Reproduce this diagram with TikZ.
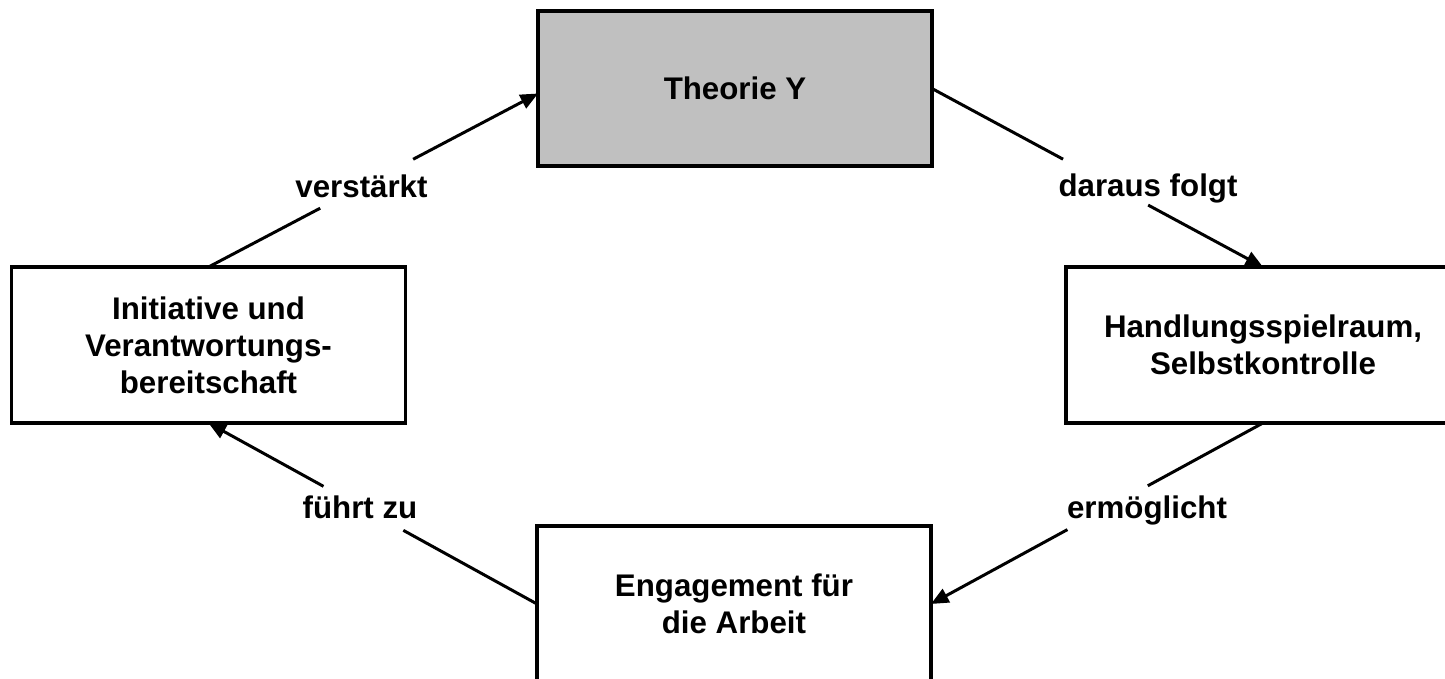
\documentclass[tikz,border=0pt]{standalone}
\usepackage{fontspec}
\setmainfont{Liberation Sans}
\usetikzlibrary{arrows.meta,calc}
\definecolor{theofill}{RGB}{192,192,192}
\begin{document}
\begin{tikzpicture}[x=0.02cm,y=-0.02cm,
  font=\fontsize{17.8}{21}\selectfont\bfseries,
  box/.style={draw=black, fill=white, line width=1.9pt, minimum width=7.88cm,
    minimum height=3.12cm, align=center, inner sep=0pt, outer sep=0pt},
  heavybox/.style={box, line width=2.5pt},
  lbl/.style={anchor=base, inner sep=0pt},
  conn/.style={line width=1.7pt},
  arr/.style={conn, -{Triangle[length=10pt,width=8.5pt]}}]
\useasboundingbox (0,0) rectangle (1445,679);
\fill[white] (0,0) rectangle (1445,679);
\clip (0,0) rectangle (1445,679);

% boxes of the cycle
\node[heavybox, fill=theofill, minimum height=3.1cm] (theo) at (735,88.5) {Theorie Y};
\node[box] (init) at (208.5,345) {Initiative und\\Verantwortungs-\\bereitschaft};
\node[box] (hand) at (1263,345) {Handlungsspielraum,\\Selbstkontrolle};
\node[heavybox] (eng) at (734,604) {Engagement für\\die Arbeit};

% connector labels
\node[lbl] (l1) at (361.5,197) {verstärkt};
\node[lbl] (l2) at (1148,196) {daraus folgt};
\node[lbl] (l3) at (1147,518) {ermöglicht};
\node[lbl] (l4) at (360,518) {führt zu};

% connectors, each interrupted where its label sits
\coordinate (theoIn) at ($(theo.west)+(0,5)$);
\draw[conn] (init.north) -- ($(init.north)!0.339!(theoIn)$);
\draw[arr] ($(init.north)!0.621!(theoIn)$) -- (theoIn);

\draw[conn] (theo.east) -- ($(theo.east)!0.396!(hand.north)$);
\draw[arr] ($(theo.east)!0.653!(hand.north)$) -- (hand.north);

\draw[conn] (hand.south) -- ($(hand.south)!0.347!(eng.east)$);
\draw[arr] ($(hand.south)!0.589!(eng.east)$) -- (eng.east);

\draw[conn] (eng.west) -- ($(eng.west)!0.407!(init.south)$);
\draw[arr] ($(eng.west)!0.650!(init.south)$) -- (init.south);
\end{tikzpicture}
\end{document}
